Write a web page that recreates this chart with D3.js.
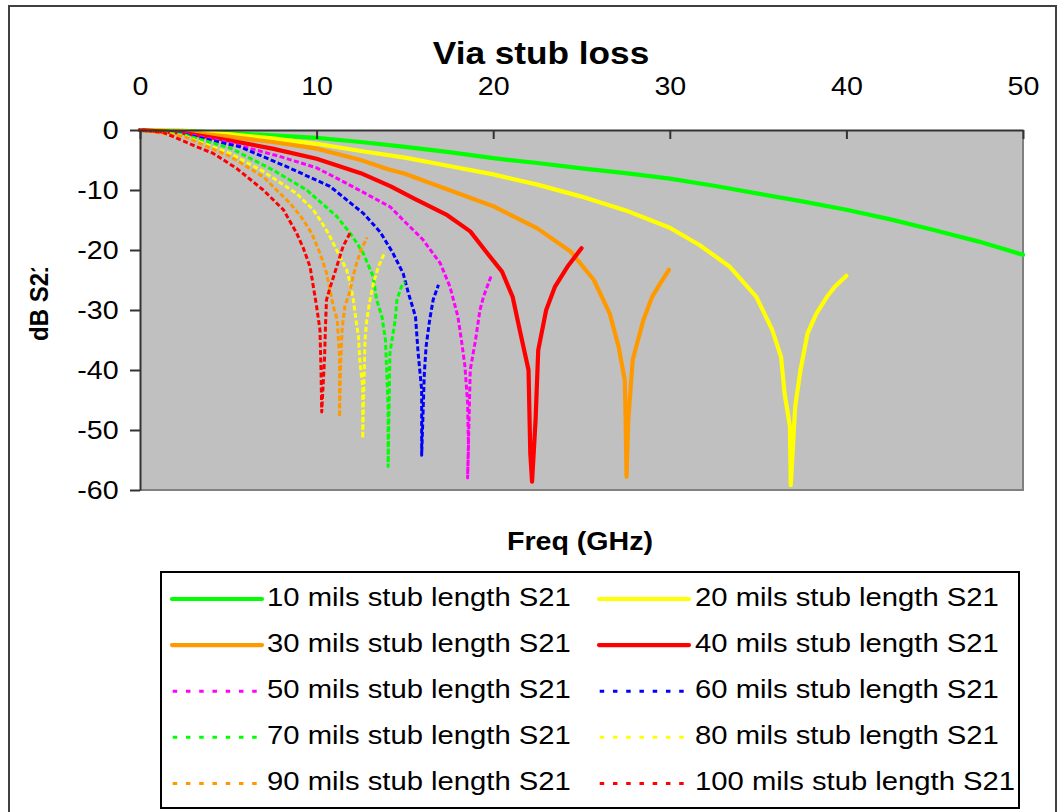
<!DOCTYPE html>
<html>
<head>
<meta charset="utf-8">
<script src="https://cdn.jsdelivr.net/npm/d3@7"></script>
<style>
  body { margin: 0; background: #ffffff; }
  svg { display: block; font-family: "Liberation Sans", Arial, sans-serif; }
</style>
</head>
<body>
<svg id="chart" width="1064" height="812"></svg>
<script>
// Axis ticks
const freqTicks = [0, 10, 20, 30, 40, 50];      // GHz
const dbTicks = [0, -10, -20, -30, -40, -50, -60];

// S21 (dB) against frequency (GHz), one list of [GHz, dB] per stub length
const stub10 = [[0,0],[2.5,-0.15],[5,-0.5],[7.5,-0.9],[10,-1.3],[12.5,-2.0],[15,-2.8],[17.5,-3.7],[20,-4.7],[22.5,-5.5],[25,-6.4],[27.5,-7.2],[30,-8.1],[32.5,-9.3],[35,-10.6],[37.5,-11.9],[40,-13.3],[42.5,-14.9],[45,-16.7],[47.5,-18.6],[50,-20.8]];
const stub20 = [[0,0],[2.5,-0.2],[5,-0.7],[7.5,-1.4],[10,-2.3],[12.5,-3.5],[15,-4.6],[17.5,-6.0],[20,-7.4],[22.5,-9.1],[25,-11.1],[27.5,-13.4],[30,-16.3],[31.7,-19.2],[33.4,-22.8],[34.9,-27.8],[35.8,-33.3],[36.3,-37.8],[36.5,-43.9],[36.8,-49.4],[36.85,-59.2],[37.1,-46.1],[37.4,-40],[37.8,-33.9],[38.3,-30.6],[38.9,-27.8],[39.35,-26.1],[40,-24.3]];
const stub30 = [[0,0],[2.5,-0.3],[5,-1.1],[7.5,-2.0],[10,-3.1],[12.5,-5.0],[14,-6.5],[15,-7.3],[17.5,-10.0],[20,-12.7],[22.5,-16.4],[24.4,-20.3],[25.7,-25],[26.6,-30.6],[27.1,-36.1],[27.45,-41.7],[27.5,-48.3],[27.55,-57.8],[27.65,-48.3],[27.9,-38.3],[28.5,-31.7],[29,-27.8],[29.45,-25.6],[29.95,-23.3]];
const stub40 = [[0,0],[2.5,-0.5],[5,-1.7],[7.5,-3.1],[10,-4.8],[12.5,-7.2],[14.2,-9.4],[15.5,-11.4],[17.4,-14.2],[18.7,-16.9],[19.6,-20.3],[20.5,-23.6],[21.1,-27.8],[21.5,-33.3],[22.0,-40],[22.1,-53.9],[22.2,-58.6],[22.4,-48.3],[22.55,-36.7],[23,-30],[23.5,-26.1],[24.2,-22.8],[25,-19.7]];
const stub50 = [[0,0],[2.5,-0.6],[5,-2.1],[7.9,-4.4],[10,-6.3],[11.7,-8.9],[13.6,-11.9],[14.16,-12.8],[14.9,-15],[16,-18.2],[17,-22.2],[17.55,-26.1],[18,-31.1],[18.2,-35],[18.4,-39.4],[18.55,-45.5],[18.6,-52.8],[18.55,-58],[18.7,-40],[19,-35],[19.25,-30],[19.45,-27.8],[19.9,-24.2]];
const stub60 = [[0,0],[2.5,-0.7],[5.66,-2.8],[8.3,-6.1],[10.76,-9.4],[12.65,-13.9],[13.6,-17.0],[14.3,-20.4],[14.9,-23.9],[15.2,-27.2],[15.6,-31.1],[15.75,-37.2],[15.95,-43.3],[15.95,-48.3],[15.95,-54.2],[16.1,-40.6],[16.2,-36.1],[16.4,-31.7],[16.6,-28.3],[16.9,-25.8]];
const stub70 = [[0,0],[2.5,-0.8],[5.1,-3.0],[7.55,-6.7],[9.44,-10],[11.14,-14.4],[11.9,-17.2],[12.4,-19.4],[12.65,-20.6],[13.2,-24.4],[13.4,-28.3],[13.7,-31.1],[13.9,-35],[13.95,-38.9],[14.05,-46.1],[14.05,-56.1],[14.15,-37.2],[14.45,-31.7],[14.55,-28.3],[14.8,-26.1],[15,-25.3]];
const stub80 = [[0,0],[2.5,-1.0],[5.1,-3.9],[6.98,-6.9],[8.87,-10.6],[9.81,-13.3],[10.2,-15],[10.66,-17.2],[11.23,-20.6],[11.7,-23.3],[11.9,-25.6],[12.08,-28.3],[12.23,-31.7],[12.37,-34.4],[12.46,-38.9],[12.61,-42.8],[12.61,-51.4],[12.74,-35],[12.84,-31.7],[12.99,-28.9],[13.21,-25.6],[13.5,-22.8],[13.87,-20.3]];
const stub90 = [[0,0],[2.5,-1.1],[5.1,-4.4],[6.98,-7.8],[8.49,-12.2],[9.16,-14.6],[9.72,-17.2],[10.2,-20.6],[10.57,-23.9],[10.76,-26.7],[10.95,-29.4],[11.17,-31.7],[11.3,-38],[11.3,-47.8],[11.35,-40],[11.45,-33],[11.6,-29.4],[11.9,-26.7],[12.08,-24.2],[12.27,-22.2],[12.55,-19.7],[12.87,-17.9]];
const stub100 = [[0,0],[1.32,-0.4],[3.21,-2.8],[4.15,-3.9],[5.47,-6.4],[6.98,-10],[8.12,-13.3],[8.87,-17.2],[9.25,-19.7],[9.63,-22.8],[10.0,-29.4],[10.19,-33.3],[10.25,-40],[10.29,-47],[10.45,-38],[10.5,-33],[10.56,-28.3],[10.76,-26.3],[11.05,-23.6],[11.5,-19.4],[11.89,-17.2]];

const seriesData = [stub10, stub20, stub30, stub40, stub50, stub60, stub70, stub80, stub90, stub100];
const seriesNames = [
  "10 mils stub length S21", "20 mils stub length S21", "30 mils stub length S21",
  "40 mils stub length S21", "50 mils stub length S21", "60 mils stub length S21",
  "70 mils stub length S21", "80 mils stub length S21", "90 mils stub length S21",
  "100 mils stub length S21"
];
const seriesColors = ["#00ff00", "#ffff00", "#ff9900", "#ff0000", "#ff00ff",
                      "#0000ff", "#00ff00", "#ffff00", "#ff9900", "#ff0000"];
const seriesDotted = [false, false, false, false, true, true, true, true, true, true];

const svg = d3.select("#chart");
const SX = 1.1;   // glyphs are drawn slightly wide

// outer frame
svg.append("rect").attr("width", 1064).attr("height", 812).attr("fill", "#fff");
svg.append("path").attr("d", "M9,812V6H1056V812")
  .attr("fill", "none").attr("stroke", "#404040").attr("stroke-width", 2);

const x = d3.scaleLinear().domain([0, 50]).range([140, 1023]);
const y = d3.scaleLinear().domain([-60, 0]).range([490, 130]);

// plot area
svg.append("rect")
  .attr("x", x(0)).attr("y", y(0))
  .attr("width", x(50) - x(0)).attr("height", y(-60) - y(0))
  .attr("fill", "#c0c0c0");
svg.append("path")
  .attr("d", `M${x(50)},${y(0)}V${y(-60)}H${x(0)}`)
  .attr("fill", "none").attr("stroke", "#808080").attr("stroke-width", 2);

function label(parent, px, py, str, size, weight, anchor, sx = SX) {
  const g = parent.append("g").attr("transform", `translate(${px},${py}) scale(${sx},1)`);
  return g.append("text").attr("font-size", size).attr("font-weight", weight)
    .attr("text-anchor", anchor).attr("fill", "#000").text(str);
}

// series
const line = d3.line().x(d => x(d[0])).y(d => y(d[1]));
const plot = svg.append("g");
seriesData.forEach((data, i) => {
  plot.append("path")
    .attr("d", line(data))
    .attr("fill", "none")
    .attr("stroke", seriesColors[i])
    .attr("stroke-width", seriesDotted[i] ? 3 : 4.2)
    .attr("stroke-linejoin", "round")
    .attr("stroke-linecap", seriesDotted[i] ? "butt" : "round")
    .attr("stroke-dasharray", seriesDotted[i] ? "5,2.5" : null);
});

// plain hyphen-minus in tick labels
const plain = d => String(d);

// top frequency axis, ticks pointing into the plot
const xAxis = svg.append("g").attr("transform", `translate(0,${y(0)})`)
  .call(d3.axisTop(x).tickValues(freqTicks).tickFormat(plain)
    .tickSizeInner(-9).tickSizeOuter(0).tickPadding(35));
xAxis.select(".domain").attr("stroke", "#333").attr("stroke-width", 2);
xAxis.selectAll(".tick line").attr("stroke", "#333").attr("stroke-width", 2);
xAxis.selectAll(".tick text").attr("font-size", 26).attr("fill", "#000")
  .attr("font-family", "Liberation Sans, Arial, sans-serif")
  .attr("transform", `scale(${SX},1)`);

// left dB axis
const yAxis = svg.append("g").attr("transform", `translate(${x(0)},0)`)
  .call(d3.axisLeft(y).tickValues(dbTicks).tickFormat(plain)
    .tickSizeInner(10).tickSizeOuter(0).tickPadding(9.5));
yAxis.select(".domain").attr("stroke", "#333").attr("stroke-width", 2);
yAxis.selectAll(".tick line").attr("stroke", "#333").attr("stroke-width", 2);
yAxis.selectAll(".tick text").attr("font-size", 26).attr("fill", "#000")
  .attr("font-family", "Liberation Sans, Arial, sans-serif")
  .attr("dy", "0.32em")
  .attr("transform", `scale(${SX},1)`);

// titles
label(svg, 541, 64, "Via stub loss", 32, "bold", "middle");
label(svg, 580, 550, "Freq (GHz)", 26, "bold", "middle");

// y axis title, cut off at its top end
svg.append("clipPath").attr("id", "ytitle-clip")
  .append("rect").attr("x", 0).attr("y", 268).attr("width", 100).attr("height", 300);
svg.append("g").attr("clip-path", "url(#ytitle-clip)")
  .append("g").attr("transform", `translate(48,341) scale(${SX},1) rotate(-90)`)
  .append("text").attr("font-size", 24).attr("font-weight", "bold").attr("fill", "#000")
  .text("dB S21");

// legend
const legend = svg.append("g");
legend.append("rect").attr("x", 161).attr("y", 572).attr("width", 858).attr("height", 236)
  .attr("fill", "#fff").attr("stroke", "#000").attr("stroke-width", 2);
seriesNames.forEach((name, i) => {
  const col = i % 2, row = Math.floor(i / 2);
  const ly = 599 + row * 46.1;
  const lx0 = col === 0 ? 172 : 599;
  const tx = col === 0 ? 267 : 695;
  if (seriesDotted[i]) {
    legend.append("line").attr("x1", lx0 + 0.7).attr("x2", lx0 + 85.7)
      .attr("y1", ly).attr("y2", ly)
      .attr("stroke", seriesColors[i]).attr("stroke-width", 3)
      .attr("stroke-dasharray", "4.5,8.75");
  } else {
    legend.append("line").attr("x1", lx0).attr("x2", lx0 + 90)
      .attr("y1", ly).attr("y2", ly)
      .attr("stroke", seriesColors[i]).attr("stroke-width", 4.2)
      .attr("stroke-linecap", "round");
  }
  label(legend, tx, ly + 6.5, name, 26, "normal", "start", 1.125);
});
</script>
</body>
</html>
